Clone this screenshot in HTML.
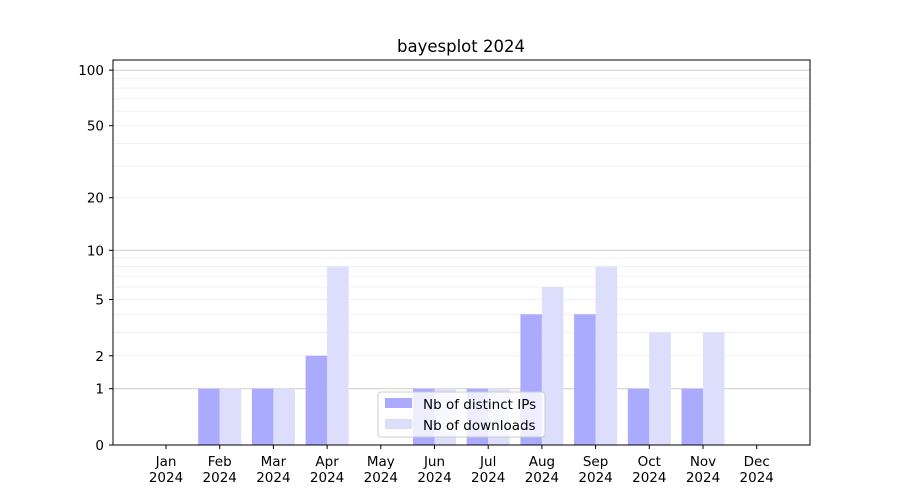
<!DOCTYPE html>
<html><head><meta charset="utf-8"><style>body{margin:0;background:#fff}svg{display:block}text{font-family:"DejaVu Sans","Liberation Sans",sans-serif;font-size:13.5px;fill:#000}</style></head>
<body>
<svg width="900" height="500" viewBox="0 0 900 500" xmlns="http://www.w3.org/2000/svg">
<g id="grid"></g>
<g id="bars"></g>
<rect x="113" y="60" width="697" height="385" fill="none" stroke="#000" stroke-width="1"/>
<g id="ticks"></g>
<text x="461" y="52" text-anchor="middle" style="font-size:16.5px">bayesplot 2024</text>
<g>
<rect x="378" y="392" width="167" height="45" rx="3" fill="#fff" fill-opacity="0.8" stroke="#ccc"/>
<rect x="385" y="398" width="27" height="10" fill="#aaaaff"/>
<text x="423" y="409">Nb of distinct IPs</text>
<rect x="385" y="419" width="27" height="10" fill="#ddddfc"/>
<text x="423" y="430">Nb of downloads</text>
</g>
<script>
var Y=function(v){return 445-187*Math.log10(1+v);};
var ns="http://www.w3.org/2000/svg";
function el(p,t,a,txt){var e=document.createElementNS(ns,t);for(var k in a)e.setAttribute(k,a[k]);if(txt!==undefined)e.textContent=txt;document.getElementById(p).appendChild(e);}
var minors=[2,3,4,5,6,7,8,9,20,30,40,50,60,70,80,90,200];
minors.forEach(function(v){var y=Y(v);if(y>60)el("grid","line",{x1:113,x2:810,y1:y,y2:y,stroke:"#eee","stroke-width":0.8});});
[1,10,100].forEach(function(v){var y=Y(v);el("grid","line",{x1:113,x2:810,y1:y,y2:y,stroke:"#ccc","stroke-width":1});});
var ips=[0,1,1,2,0,1,1,4,4,1,1,0],dl=[0,1,1,8,0,1,1,6,8,3,3,0];
var m=["Jan","Feb","Mar","Apr","May","Jun","Jul","Aug","Sep","Oct","Nov","Dec"];
for(var i=0;i<12;i++){var c=166+i*53.7;
 if(ips[i])el("bars","rect",{x:c-21.5,y:Y(ips[i]),width:21.5,height:445-Y(ips[i]),fill:"#aaaaff"});
 if(dl[i])el("bars","rect",{x:c,y:Y(dl[i]),width:21.5,height:445-Y(dl[i]),fill:"#ddddfc"});
 el("ticks","line",{x1:c,x2:c,y1:445,y2:449,stroke:"#000"});
 el("ticks","text",{x:c,y:466,"text-anchor":"middle"},m[i]);
 el("ticks","text",{x:c,y:482,"text-anchor":"middle"},"2024");}
[0,1,2,5,10,20,50,100].forEach(function(v){var y=Y(v);el("ticks","line",{x1:109,x2:113,y1:y,y2:y,stroke:"#000"});el("ticks","text",{x:104,y:y+5,"text-anchor":"end"},String(v));});
</script>
</svg>
</body></html>
